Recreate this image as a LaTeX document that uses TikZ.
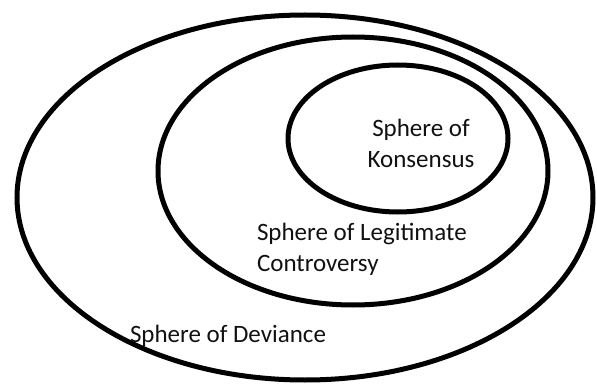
\documentclass[tikz,border=0pt]{standalone}
\usepackage{fontspec}
\setmainfont{Carlito}
\usetikzlibrary{positioning}
\definecolor{InkBlack}{HTML}{111111}

\begin{document}
\begin{tikzpicture}[
  x=0.75pt,
  y=-0.75pt,
  sphere/.style={draw=black,line width=3.75pt},
  label/.style={inner sep=0,outer sep=0,text=InkBlack,font=\fontsize{18.75pt}{23.8pt}\selectfont}
]
  \useasboundingbox (0,0) rectangle (597,385);
  % nested spheres
  \draw[sphere] (305,197.5) ellipse [x radius=288, y radius=182.5];
  \draw[sphere] (353,171) ellipse [x radius=195, y radius=134];
  \draw[sphere] (398,138.5) ellipse [x radius=110, y radius=73.5];

  % base anchor sits on the last line
  \node[label,align=center,anchor=base] (konsensus) at (421,168) {Sphere of\\Konsensus};
  \node[label,align=left,anchor=base west] (legitimate) at (257,272) {Sphere of Legitimate\\Controversy};
  \node[label,anchor=base west] (deviance) at (130,342) {Sphere of Deviance};
\end{tikzpicture}
\end{document}
